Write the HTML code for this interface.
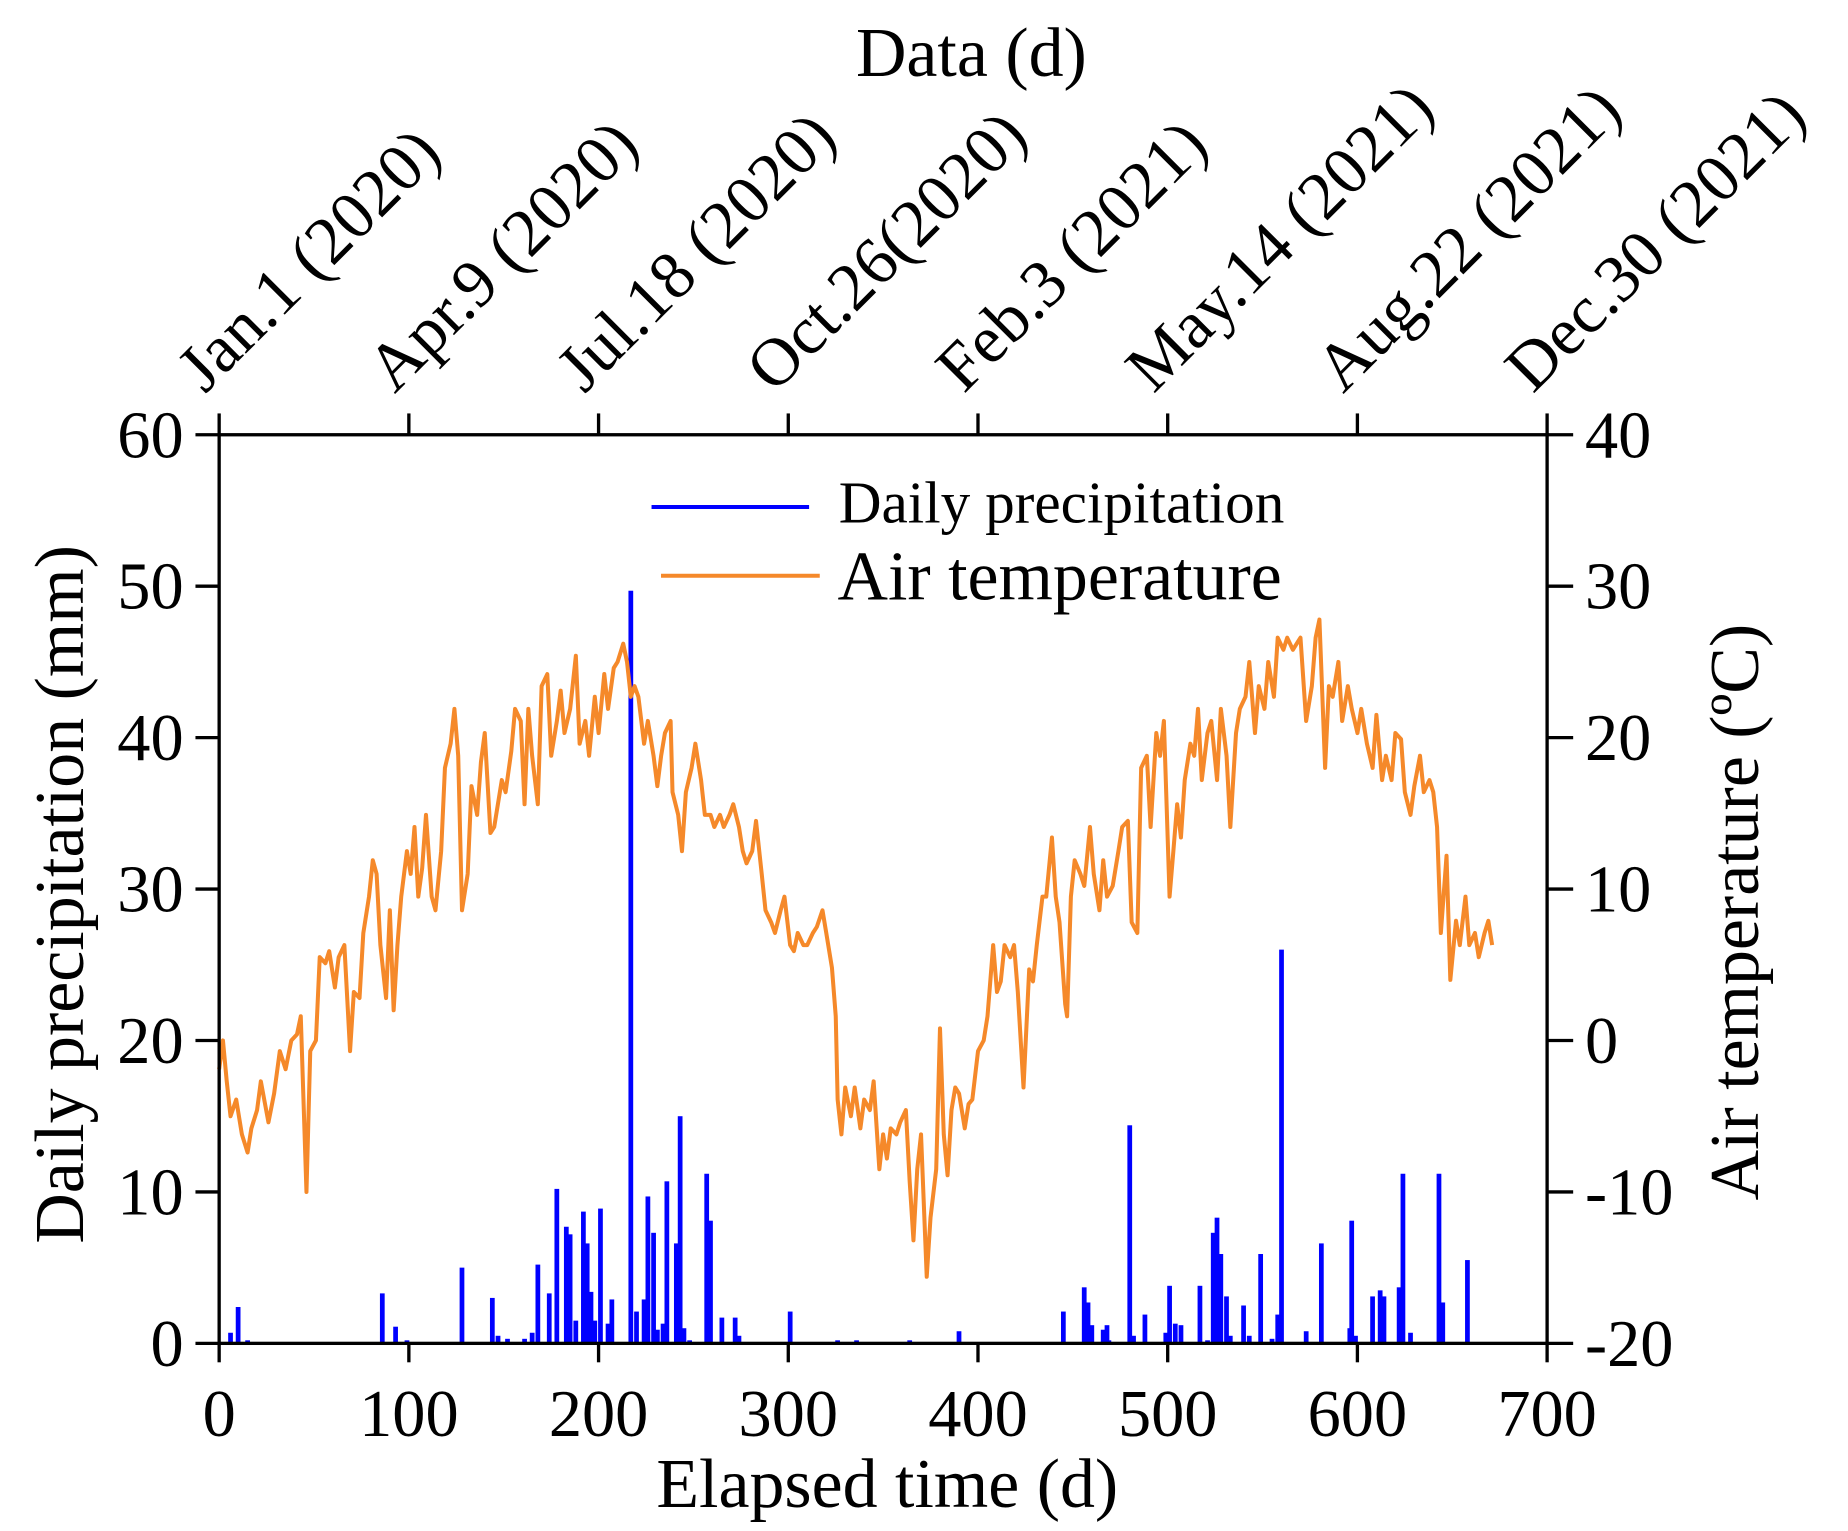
<!DOCTYPE html>
<html><head><meta charset="utf-8"><style>html,body{margin:0;padding:0;background:#fff}svg{display:block}</style></head>
<body>
<svg id="chart" xmlns="http://www.w3.org/2000/svg" width="1848" height="1531" viewBox="0 0 1560 1292.4" font-family="'Liberation Serif', serif">
<rect x="0" y="0" width="1560" height="1292.4" fill="#fff"/>
<g id="marks"></g>
<g id="axes"></g>
</svg>
<script>
const precipDays = [6,10,15,86,93,99,128,144,147,152,161,165,168,174,178,183,185,188,192,194,196,198,201,205,207,217,220,224,226,229,231,234,236,241,243,245,248,257,259,265,272,274,301,326,336,364,390,445,456,458,460,466,468,469,480,482,488,499,501,504,507,517,521,524,526,528,531,533,540,543,549,555,558,560,573,581,596,597,599,608,612,614,622,624,628,643,645,658];
const precipValues = [0.7,2.4,0.2,3.3,1.1,0.2,5,3,0.5,0.3,0.3,0.7,5.2,3.3,10.2,7.7,7.2,1.5,8.7,6.6,3.4,1.5,8.9,1.3,2.9,49.7,2.1,2.9,9.7,7.3,0.9,1.3,10.7,6.6,15,1,0.2,11.2,8.1,1.7,1.7,0.5,2.1,0.2,0.2,0.2,0.8,2.1,3.7,2.7,1.2,0.9,1.2,0.2,14.4,0.5,1.9,0.7,3.8,1.3,1.2,3.8,0.2,7.3,8.3,5.9,3.1,0.5,2.5,0.5,5.9,0.3,1.9,26,0.8,6.6,1,8.1,0.5,3.1,3.5,3.1,3.7,11.2,0.7,11.2,2.7,5.5];
const tempDays = [0,2,4,6,9,12,15,17,20,22,26,29,32,35,38,41,43,46,48,51,53,56,58,61,63,66,69,71,74,76,79,81,83,85,88,90,92,94,96,99,101,103,105,107,109,112,114,117,119,122,124,126,128,131,133,136,138,140,143,145,149,151,154,156,159,161,163,165,168,170,173,175,178,180,182,185,188,190,193,195,198,200,203,205,208,210,213,215,217,219,221,224,226,229,231,233,235,238,239,242,244,246,249,251,254,256,259,261,264,266,269,271,274,276,278,281,283,286,288,291,293,296,298,301,303,305,308,310,313,315,318,320,323,325,326,328,330,333,335,338,340,343,345,348,350,352,354,357,359,362,364,366,368,370,373,375,378,380,382,384,386,388,390,393,395,397,400,403,405,408,410,412,414,417,419,421,424,427,429,431,434,436,439,441,443,446,447,449,451,454,456,459,461,464,466,468,471,474,476,479,481,484,486,489,491,494,496,498,501,503,505,507,509,512,514,516,518,521,523,526,528,531,533,536,538,541,543,546,548,551,553,556,558,561,563,566,568,570,573,576,578,580,583,585,587,590,592,595,597,600,602,605,608,610,613,615,618,620,623,625,628,630,633,635,638,640,642,644,647,649,652,654,657,659,662,664,667,669,671];
const tempValues = [-1.9,0,-2.7,-5,-3.9,-6.2,-7.4,-5.8,-4.6,-2.7,-5.4,-3.5,-0.7,-1.9,0,0.4,1.6,-10,-0.7,0,5.5,5.1,5.9,3.5,5.5,6.3,-0.7,3.2,2.8,7.1,9.5,11.9,11,6.3,2.8,8.6,2,6.3,9.5,12.5,11,14.1,9.5,11.4,14.9,9.5,8.6,12.5,18,19.6,21.9,18.8,8.6,11,16.8,14.9,18.4,20.3,13.7,14.1,17.2,16.4,19.1,21.9,21.1,15.6,21.9,18.8,15.6,23.4,24.2,18.8,21.1,23.1,20.3,21.9,25.4,19.6,21.1,18.8,22.7,20.3,24.2,21.9,24.6,25,26.2,25,22.7,23.4,22.7,19.6,21.1,18.8,16.8,18.8,20.3,21.1,16.4,14.9,12.5,16.4,18,19.6,17.2,14.9,14.9,14.1,14.9,14.1,14.9,15.6,14.1,12.5,11.7,12.5,14.5,11,8.6,7.8,7.1,8.6,9.5,6.3,5.9,7.1,6.3,6.3,7.1,7.5,8.6,7.1,4.8,1.6,-3.9,-6.2,-3.1,-5,-3.1,-5.8,-3.9,-4.6,-2.7,-8.5,-6.2,-7.8,-5.8,-6.2,-5.4,-4.6,-9.3,-13.2,-8.5,-6.2,-15.6,-11.7,-8.5,0.8,-6.2,-8.9,-4.6,-3.1,-3.5,-5.8,-4.2,-3.9,-0.7,0,1.6,6.3,3.2,3.9,6.3,5.5,6.3,3.2,-3.1,4.7,3.9,6.3,9.5,9.5,13.4,9.5,7.8,2.4,1.6,9.5,11.9,11,10.2,14.1,11,8.6,11.9,9.5,10.2,12.5,14.1,14.5,7.8,7.1,18,18.8,14.1,20.3,18.8,21.1,9.5,12.5,15.6,13.4,17.2,19.6,18.8,21.9,17.2,20.3,21.1,17.2,21.9,18.8,14.1,20.3,21.9,22.7,25,20.3,23.4,21.9,25,22.7,26.6,25.8,26.6,25.8,26.2,26.6,21.1,23.4,26.6,27.8,18,23.4,22.7,25,21.1,23.4,21.9,20.3,21.9,19.6,18,21.5,17.2,18.8,17.2,20.3,19.9,16.4,14.9,16.8,18.8,16.4,17.2,16.4,14.1,7.1,12.2,4,7.9,6.3,9.5,6.3,7.1,5.5,7.1,7.9,6.3];
const xTicks = [0,100,200,300,400,500,600,700];
const leftTicks = [0,10,20,30,40,50,60];
const rightTicks = [-20,-10,0,10,20,30,40];
const topLabels = ["Jan.1 (2020)","Apr.9 (2020)","Jul.18 (2020)","Oct.26(2020)","Feb.3 (2021)","May.14 (2021)","Aug.22 (2021)","Dec.30 (2021)"];

const NS = "http://www.w3.org/2000/svg";
const L = 185, R = 1306, T = 367, B = 1134;
const xS = d => L + (d/700)*(R-L);
const yP = v => B - (v/60)*(B-T);
const yT = v => B - ((v+20)/60)*(B-T);
function mk(tag, attrs, parent, txt){
  const e = document.createElementNS(NS, tag);
  for (const k in attrs) e.setAttribute(k, attrs[k]);
  if (txt !== undefined) e.textContent = txt;
  parent.appendChild(e); return e;
}
const marks = document.getElementById('marks');
const axes = document.getElementById('axes');

precipDays.forEach((d,i)=>{
  const b = mk('rect',{x:xS(d)-2,y:yP(precipValues[i]),width:4,height:B-yP(precipValues[i]),fill:'#0000ff'},marks);
  
  
});
let dstr = tempDays.map((d,i)=>(i?'L':'M')+xS(d).toFixed(1)+' '+yT(tempValues[i]).toFixed(1)).join(' ');
const tl = mk('path',{d:dstr,fill:'none',stroke:'#f5892a','stroke-width':3.4,'stroke-linejoin':'round'},marks);



const fr = mk('rect',{x:L,y:T,width:R-L,height:B-T,fill:'none',stroke:'#000','stroke-width':2.8},axes);



xTicks.forEach((v,i)=>{
  const x = xS(v);
  mk('line',{x1:x,y1:B,x2:x,y2:B+16,stroke:'#000','stroke-width':2.8},axes);
  mk('line',{x1:x,y1:T,x2:x,y2:T-18,stroke:'#000','stroke-width':2.8},axes);
  const t = mk('text',{x:x,y:B+78,'text-anchor':'middle','font-size':56},axes,String(v));
  
  
  const tt = mk('text',{x:0,y:0,'font-size':57,transform:`translate(${x-12},${T-34}) rotate(-45)`},axes,topLabels[i]);
  
  
});
leftTicks.forEach(v=>{
  const y = yP(v);
  mk('line',{x1:L,y1:y,x2:L-20,y2:y,stroke:'#000','stroke-width':2.8},axes);
  const t = mk('text',{x:L-30,y:y+19,'text-anchor':'end','font-size':56},axes,String(v));
  
  
});
rightTicks.forEach(v=>{
  const y = yT(v);
  mk('line',{x1:R,y1:y,x2:R+22,y2:y,stroke:'#000','stroke-width':2.8},axes);
  const t = mk('text',{x:R+32,y:y+19,'text-anchor':'start','font-size':56},axes,String(v));
  
  
});
</script>
<svg style="position:absolute;left:0;top:0" width="1848" height="1531" viewBox="0 0 1560 1292.4" font-family="'Liberation Serif', serif">
  <text x="749" y="1272" text-anchor="middle" font-size="59">Elapsed time (d)</text>
  <text x="820" y="64" text-anchor="middle" font-size="59">Data (d)</text>
  <text transform="translate(70,755) rotate(-90)" text-anchor="middle" font-size="59">Daily precipitation (mm)</text>
  <text transform="translate(1484,770) rotate(-90)" text-anchor="middle" font-size="59">Air temperature (ºC)</text>
  <line x1="550" y1="428" x2="683" y2="428" stroke="#0000ff" stroke-width="3.4"/>
  <text x="708" y="441" font-size="50">Daily precipitation</text>
  <line x1="558" y1="486" x2="692" y2="486" stroke="#f5892a" stroke-width="3.4"/>
  <text x="707" y="506" font-size="59">Air temperature</text>
</svg>
</body></html>
